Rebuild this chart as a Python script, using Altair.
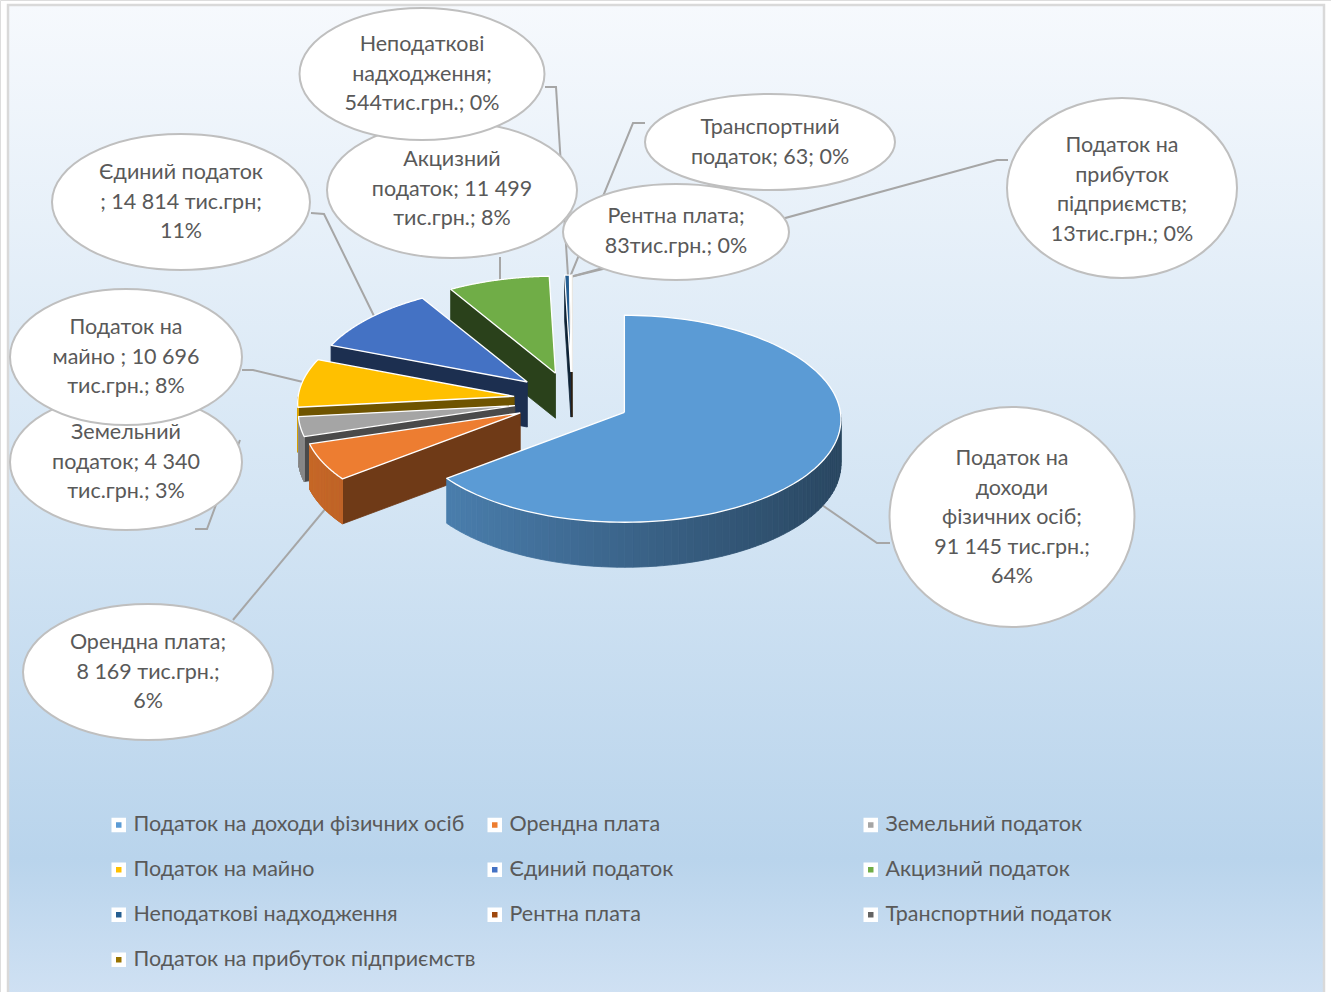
import json
import altair as alt
import pandas as pd

# ---------------- data ----------------
categories = [
    "Податок на доходи фізичних осіб",
    "Орендна плата",
    "Земельний податок",
    "Податок на майно",
    "Єдиний податок",
    "Акцизний податок",
    "Неподаткові надходження",
    "Рентна плата",
    "Транспортний податок",
    "Податок на прибуток підприємств",
]
values = [91145, 8169, 4340, 10696, 14814, 11499, 544, 83, 63, 13]
label_texts = [
    "Податок на\nдоходи\nфізичних осіб;\n91 145 тис.грн.;\n64%",
    "Орендна плата;\n8 169 тис.грн.;\n6%",
    "Земельний\nподаток; 4 340\nтис.грн.; 3%",
    "Податок на\nмайно ; 10 696\nтис.грн.; 8%",
    "Єдиний податок\n; 14 814 тис.грн;\n11%",
    "Акцизний\nподаток; 11 499\nтис.грн.; 8%",
    "Неподаткові\nнадходження;\n544тис.грн.; 0%",
    "Рентна плата;\n83тис.грн.; 0%",
    "Транспортний\nподаток; 63; 0%",
    "Податок на\nприбуток\nпідприємств;\n13тис.грн.; 0%",
]

# ---------------- styles / layout ----------------
colors = ["#5b9bd5", "#ed7d31", "#a5a5a5", "#ffc000", "#4472c4",
          "#70ad47", "#255e91", "#9e480e", "#636363", "#997300"]
FONT = "Lato"
TEXT_COLOR = "#595959"
FONT_SIZE = 21.5

# callout ellipses (centre, width, height) and first text line position
label_cx = [1012, 148, 126, 126, 181, 452, 422, 676, 770, 1122]
label_cy = [517, 672, 462, 357, 202, 190, 74, 232, 142, 188]
ell_w = [245, 250, 232, 232, 258, 250, 245, 226, 250, 230]
ell_h = [220, 136, 136, 136, 136, 136, 132, 96, 96, 180]
text_y0 = [459, 643, 433, 328, 173, 160, 45, 217, 128, 146]

leaders = [
    [(890, 543), (877, 543), (822, 505)],
    [(233, 620), (326, 508)],
    [(195, 529), (207, 529), (240, 440)],
    [(242, 370), (253, 370), (303, 382)],
    [(311, 213), (324, 214), (375, 318)],
    [(500, 257), (500, 282)],
    [(545, 87), (556, 87), (568, 276)],
    [(607, 268), (570, 277)],
    [(645, 123), (633, 123), (570, 277)],
    [(1008, 160), (997, 160), (570, 277)],
]

# pie geometry (pixels)
CX, CY = 572, 400
RX, RY = 216, 103.5
DX, DR = 15, 6.5      # mild perspective (back narrower)
E = 0.27              # explode factor
T = 45                # thickness
N = 120               # arc resolution

W, H = 1331, 992

df = pd.DataFrame({"cat": categories, "value": values, "idx": list(range(len(categories)))})

XS = alt.Scale(domain=[0, W], range=[0, W], nice=False, zero=False)
YS = alt.Scale(domain=[0, H], range=[0, H], nice=False, zero=False)


def ex_x(a):
    return f"datum.vx + ({RX} - {DX}*cos({a}))*sin({a})"


def ex_y(a):
    return f"datum.vy - ({RY} - {DR}*cos({a}))*cos({a})"


def base():
    return (
        alt.Chart(df)
        .transform_joinaggregate(total="sum(value)")
        .transform_window(cum="sum(value)", sort=[alt.SortField("idx", order="ascending")], frame=[None, 0])
        .transform_calculate(a0="2*PI*(datum.cum - datum.value)/datum.total")
        .transform_calculate(a1="2*PI*datum.cum/datum.total")
        .transform_calculate(mid="(datum.a0 + datum.a1)/2")
        .transform_calculate(vx=f"{CX} + {E * RX}*sin(datum.mid)")
        .transform_calculate(vy=f"{CY} - {E * RY}*cos(datum.mid)")
    )


FILL = alt.Fill(
    "cat:N",
    scale=alt.Scale(domain=categories, range=colors),
    legend=alt.Legend(
        title=None, orient="none", legendX=108, legendY=814, columns=3,
        direction="horizontal",
        symbolType="square", symbolSize=100, symbolStrokeColor="white",
        symbolStrokeWidth=4.5, symbolOpacity=1,
        labelFont=FONT, labelFontSize=FONT_SIZE, labelColor=TEXT_COLOR,
        rowPadding=16, columnPadding=4, gridAlign="all", labelOffset=4,
        labelLimit=600, padding=0,
    ),
)

# ---------------- background ----------------
grad = alt.Gradient(
    gradient="linear", x1=0, y1=0, x2=0, y2=1,
    stops=[
        alt.GradientStop(offset=0, color="#f6f9fd"),
        alt.GradientStop(offset=0.5, color="#d4e5f4"),
        alt.GradientStop(offset=0.86, color="#b9d4ec"),
        alt.GradientStop(offset=1, color="#d0e1f3"),
    ],
)
bg = alt.Chart(pd.DataFrame({"a": [0]})).mark_rect(
    fill=grad, stroke="#d9d9d9", strokeWidth=2.5
).encode(x=alt.value(8), x2=alt.value(1324), y=alt.value(5), y2=alt.value(998))

# ---------------- leader lines ----------------
lrows = []
for i, pts in enumerate(leaders):
    for s, (x, y) in enumerate(pts):
        lrows.append({"lid": i, "seq": s, "x": x, "y": y})
ldf = pd.DataFrame(lrows)
lines = alt.Chart(ldf).mark_line(color="#a6a6a6", strokeWidth=2).encode(
    x=alt.X("x:Q", scale=XS, axis=None),
    y=alt.Y("y:Q", scale=YS, axis=None),
    detail="lid:N",
    order="seq:Q",
)

# ---------------- pie walls (one layer per slice, back to front) ----------------
color_arr = json.dumps(colors)
walls = []
for i in reversed(range(len(categories))):
    w = (
        base()
        .transform_filter(f"datum.idx == {i}")
        .transform_calculate(e=f"sequence(-1, {N + 1})")
        .transform_flatten(["e"])
        .transform_calculate(tm=f"datum.a0 + (datum.a1 - datum.a0)*(datum.e + 0.5)/{N}")
        .transform_calculate(
            face=f"datum.e < 0 ? -sin(datum.a0) : (datum.e >= {N} ? sin(datum.a1) : -cos(datum.tm))"
        )
        .transform_filter("datum.face > 0.0005")
        .transform_calculate(
            f=f"datum.e < 0 ? 0.43 - 0.06*cos(datum.a0) : (datum.e >= {N} ? 0.43 + 0.06*cos(datum.a1) : 0.65 - 0.2*sin(datum.tm))"
        )
        .transform_calculate(col=f"{color_arr}[datum.idx]")
        .transform_calculate(
            wc="'rgb(' + round(rgb(datum.col).r*datum.f) + ',' + round(rgb(datum.col).g*datum.f) + ',' + round(rgb(datum.col).b*datum.f) + ')'"
        )
        .transform_calculate(c="sequence(0, 5)")
        .transform_flatten(["c"])
        .transform_calculate(j="(datum.c == 1 || datum.c == 2) ? datum.e + 1 : datum.e")
        .transform_calculate(isv=f"datum.j < 0 || datum.j > {N}")
        .transform_calculate(ang=f"datum.a0 + (datum.a1 - datum.a0)*clamp(datum.j, 0, {N})/{N}")
        .transform_calculate(px=f"datum.isv ? datum.vx : {ex_x('datum.ang')}")
        .transform_calculate(
            py=f"(datum.isv ? datum.vy : {ex_y('datum.ang')}) + ((datum.c == 2 || datum.c == 3) ? {T} : 0)"
        )
        .mark_line(strokeWidth=0.8, strokeJoin="round")
        .encode(
            x=alt.X("px:Q", scale=XS, axis=None),
            y=alt.Y("py:Q", scale=YS, axis=None),
            order="c:Q",
            detail="e:Q",
            fill=alt.Fill("wc:N", scale=None),
            stroke=alt.Stroke("wc:N", scale=None),
        )
    )
    walls.append(w)

# ---------------- pie tops ----------------
tops = (
    base()
    .transform_calculate(p=f"sequence(-1, {N + 2})")
    .transform_flatten(["p"])
    .transform_calculate(isv=f"datum.p < 0 || datum.p > {N}")
    .transform_calculate(ang=f"datum.a0 + (datum.a1 - datum.a0)*clamp(datum.p, 0, {N})/{N}")
    .transform_calculate(px=f"datum.isv ? datum.vx : {ex_x('datum.ang')}")
    .transform_calculate(py=f"datum.isv ? datum.vy : {ex_y('datum.ang')}")
    .mark_line(stroke="white", strokeWidth=1.3, strokeJoin="round")
    .encode(
        x=alt.X("px:Q", scale=XS, axis=None),
        y=alt.Y("py:Q", scale=YS, axis=None),
        order="p:Q",
        fill=FILL,
    )
)

# ---------------- callouts ----------------
def ellipse_path(w, h):
    k = 0.5523
    a = h / w
    return (
        f"M -1 0 C -1 {-k * a:.4f} {-k:.4f} {-a:.4f} 0 {-a:.4f} "
        f"C {k:.4f} {-a:.4f} 1 {-k * a:.4f} 1 0 "
        f"C 1 {k * a:.4f} {k:.4f} {a:.4f} 0 {a:.4f} "
        f"C {-k:.4f} {a:.4f} -1 {k * a:.4f} -1 0 Z"
    )


labdf = pd.DataFrame({
    "lx": label_cx,
    "ly": label_cy,
    "ty": text_y0,
    "txt": label_texts,
    "shp": [ellipse_path(w, h) for w, h in zip(ell_w, ell_h)],
    "sz": [w * w for w in ell_w],
})

ellipses = alt.Chart(labdf).mark_point(
    filled=True, fill="white", stroke="#bfbfbf", strokeWidth=2, opacity=1, fillOpacity=1
).encode(
    x=alt.X("lx:Q", scale=XS, axis=None),
    y=alt.Y("ly:Q", scale=YS, axis=None),
    shape=alt.Shape("shp:N", scale=None),
    size=alt.Size("sz:Q", scale=None),
)

texts = alt.Chart(labdf).mark_text(
    font=FONT, fontSize=FONT_SIZE, color=TEXT_COLOR, lineBreak="\n", lineHeight=29.5,
    align="center", baseline="middle",
).encode(
    x=alt.X("lx:Q", scale=XS, axis=None),
    y=alt.Y("ty:Q", scale=YS, axis=None),
    text="txt:N",
)

chart = (
    alt.layer(bg, lines, *walls, tops, ellipses, texts)
    .properties(width=W, height=H, autosize=alt.AutoSizeParams(type="none"), padding=0)
    .configure_view(strokeWidth=0)
    .configure(background="white")
)

chart.save("out.html", embed_options={"renderer": "svg", "actions": False})
